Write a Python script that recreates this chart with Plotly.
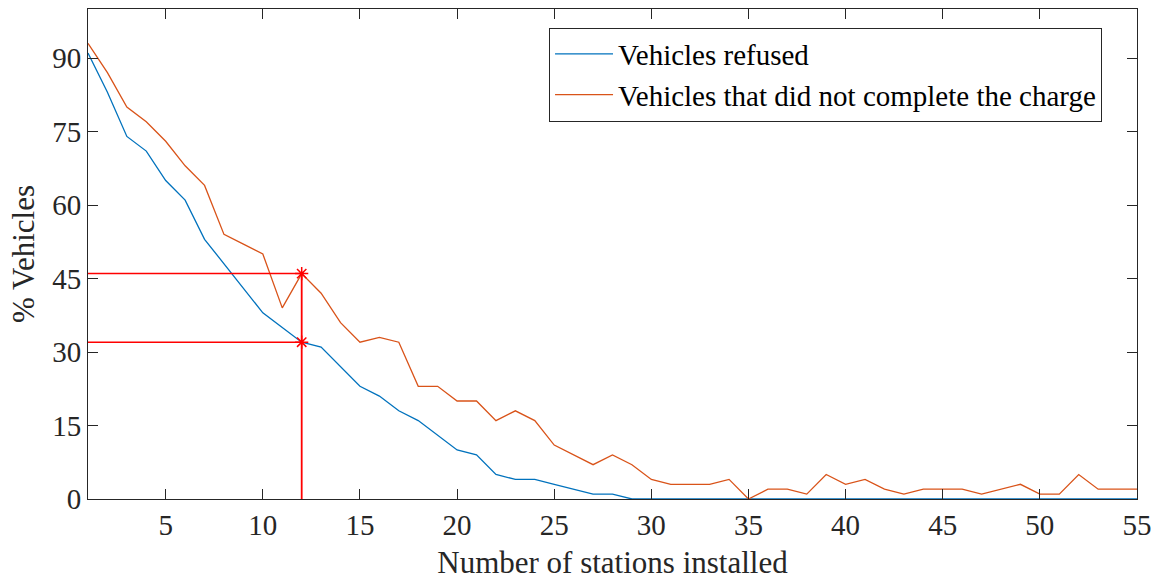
import plotly.graph_objects as go

stations = list(range(1, 56))
refused = [91, 83, 74, 71, 65, 61, 53, 48, 43, 38, 35, 32, 31, 27, 23, 21, 18, 16, 13, 10,
           9, 5, 4, 4, 3, 2, 1, 1, 0, 0, 0, 0, 0, 0, 0, 0, 0, 0, 0, 0,
           0, 0, 0, 0, 0, 0, 0, 0, 0, 0, 0, 0, 0, 0, 0]
not_completed = [93, 87, 80, 77, 73, 68, 64, 54, 52, 50, 39, 46, 42, 36, 32, 33, 32, 23, 23, 20,
                 20, 16, 18, 16, 11, 9, 7, 9, 7, 4, 3, 3, 3, 4, 0, 2, 2, 1, 5, 3,
                 4, 2, 1, 2, 2, 2, 1, 2, 3, 1, 1, 5, 2, 2, 2]
marker_x = 12
marker_y = [46, 32]
x_ticks = [5, 10, 15, 20, 25, 30, 35, 40, 45, 50, 55]
y_ticks = [0, 15, 30, 45, 60, 75, 90]

BLUE = "#0072BD"
ORANGE = "#D95319"
RED = "#FF0000"
AX = "#262626"
FONT = "Liberation Serif"

fig = go.Figure()
fig.add_trace(go.Scatter(x=stations, y=refused, mode="lines", name="Vehicles refused",
                         line=dict(color=BLUE, width=1.3)))
fig.add_trace(go.Scatter(x=stations, y=not_completed, mode="lines",
                         name="Vehicles that did not complete the charge",
                         line=dict(color=ORANGE, width=1.3)))
# reference lines
for yv in marker_y:
    fig.add_trace(go.Scatter(x=[stations[0], marker_x], y=[yv, yv], mode="lines",
                             line=dict(color=RED, width=1.5), showlegend=False, hoverinfo="skip"))
fig.add_trace(go.Scatter(x=[marker_x, marker_x], y=[0, max(marker_y)], mode="lines",
                         line=dict(color=RED, width=1.8), showlegend=False, hoverinfo="skip"))
fig.add_trace(go.Scatter(x=[marker_x] * len(marker_y), y=marker_y, mode="markers",
                         marker=dict(symbol="asterisk-open", size=11, color=RED,
                                     line=dict(color=RED, width=1.5)),
                         showlegend=False, hoverinfo="skip"))

fig.update_layout(
    width=1163, height=580,
    margin=dict(l=88, r=26, t=9, b=81),
    plot_bgcolor="white", paper_bgcolor="white",
    font=dict(family=FONT, size=29, color=AX),
    legend=dict(x=0.4395, y=0.962, xanchor="left", yanchor="top",
                bordercolor=AX, borderwidth=1, bgcolor="white",
                font=dict(family=FONT, size=29, color="black"),
                tracegroupgap=0, itemwidth=58),
    showlegend=True,
)
fig.update_xaxes(range=[1, 55], tickvals=x_ticks, ticks="inside", ticklen=10, tickcolor=AX,
                 showline=True, linecolor=AX, linewidth=1, mirror="ticks", showgrid=False,
                 zeroline=False, automargin=False,
                 title=dict(text="Number of stations installed", standoff=14,
                            font=dict(size=31, color=AX)),
                 tickfont=dict(size=29, color=AX))
fig.update_yaxes(range=[0, 100], tickvals=y_ticks, ticks="inside", ticklen=10, tickcolor=AX,
                 showline=True, linecolor=AX, linewidth=1, mirror="ticks", showgrid=False,
                 zeroline=False, automargin=False,
                 title=dict(text="% Vehicles", standoff=8,
                            font=dict(size=31, color=AX)),
                 tickfont=dict(size=29, color=AX))

fig.write_html("out.html")
